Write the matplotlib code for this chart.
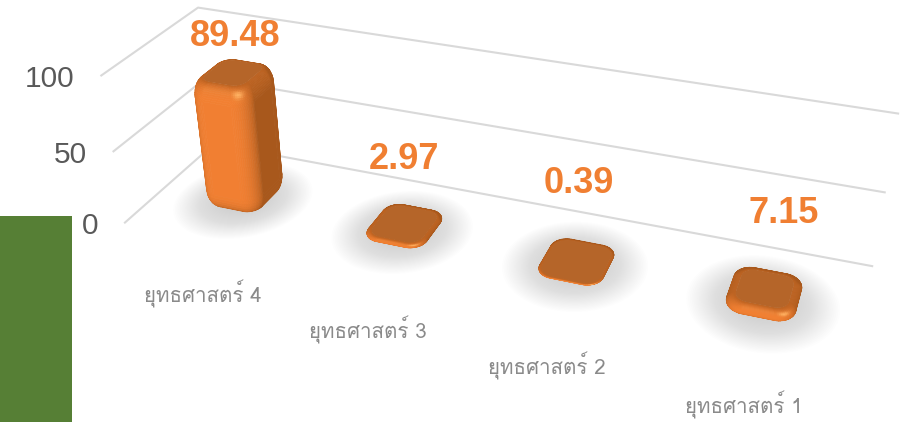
import numpy as np
import matplotlib
matplotlib.use('Agg')
import matplotlib.pyplot as plt
from matplotlib import font_manager
from matplotlib.collections import PolyCollection
from matplotlib.patches import Rectangle

# Step 1: values
categories = ['ยุทธศาสตร์ 4', 'ยุทธศาสตร์ 3', 'ยุทธศาสตร์ 2', 'ยุทธศาสตร์ 1']
values = [89.48, 2.97, 0.39, 7.15]
y_ticks = [0, 50, 100]

# Step 2: fit a camera so the chart box (x 0-4, depth 0-1, value 0-100) lands on the pixels
world_pts = [(0, 1, 0), (0, 0, 0), (4, 1, 0), (0, 1, 50), (0, 0, 50), (4, 1, 50),
             (0, 1, 100), (0, 0, 100), (4, 1, 100),
             (.5, .5, 0), (1.5, .5, 0), (2.5, .5, 0), (3.5, .5, 0)]
pixel_pts = [(215, 147), (124, 225), (873, 266), (207, 78), (113, 153), (886, 192),
             (197, 7), (101, 76), (899, 114),
             (244, 188), (405, 229), (578, 264), (763, 298)]


def fit_camera(world, pixel):
    rows, rhs = [], []
    for (x, y, z), (u, v) in zip(world, pixel):
        rows.append([x, y, z, 1, 0, 0, 0, 0, -u * x, -u * y, -u * z])
        rows.append([0, 0, 0, 0, x, y, z, 1, -v * x, -v * y, -v * z])
        rhs += [u, v]
    m = np.linalg.lstsq(np.array(rows, float), np.array(rhs, float), rcond=None)[0]
    return np.append(m, 1).reshape(3, 4)


cam = fit_camera(world_pts, pixel_pts)


def project(x, y, z):
    x, y, z = np.broadcast_arrays(np.asarray(x, float), np.asarray(y, float), np.asarray(z, float))
    pts = np.stack([x, y, z, np.ones_like(x)], axis=-1)
    h = pts @ cam.T
    return h[..., :2] / h[..., 2:]


def pick_thai_font():
    for f in font_manager.fontManager.ttflist:
        try:
            if 0x0E22 in font_manager.get_font(f.fname).get_charmap():
                return f.name
        except Exception:
            pass
    return 'Liberation Sans'


fig = plt.figure(figsize=(9.02, 4.22), dpi=100)
ax = fig.add_axes([0, 0, 1, 1])
ax.set_xlim(0, 902)
ax.set_ylim(422, 0)
ax.axis('off')

# green block bottom left
ax.add_patch(Rectangle((0, 216), 72, 206, color='#567F35', lw=0, zorder=1))

# Step 3: gridlines on the two walls, tick labels
for t in y_ticks:
    pts = np.array([project(0, 0, t), project(0, 1, t), project(4, 1, t)])
    ax.plot(pts[:, 0], pts[:, 1], color='#D9D9D9', lw=1.5, zorder=2, solid_capstyle='butt')
    ax.text(pts[0, 0] - 26, pts[0, 1] + 3, str(t), ha='right', va='center', color='#595959',
            fontsize=21.5, family='Liberation Sans', zorder=6)

# Step 4: rounded bars as shaded meshes
half_x, half_y = 0.175, 0.2
corner = 0.5
bar_scale = 0.97
base_col = np.array([0xF2, 0x80, 0x32]) / 255
dark_col = np.array([0xA8, 0x58, 0x1C]) / 255
spec_col = np.array([0xFF, 0xB0, 0x60]) / 255
light = np.array([0.0, -1.0, 0.2])
light = light / np.linalg.norm(light)
spec_dir = np.array([0.35, -0.65, 0.65])
spec_dir = spec_dir / np.linalg.norm(spec_dir)

# rounded square outline in -1..1 with its outward normals
out_x, out_y, out_nx, out_ny = [], [], [], []
for a0, (sx, sy) in zip([0, 90, 180, 270], [(1, 1), (-1, 1), (-1, -1), (1, -1)]):
    for a in np.radians(a0 + np.linspace(0, 90, 14)):
        out_x.append(sx * (1 - corner) + corner * np.cos(a))
        out_y.append(sy * (1 - corner) + corner * np.sin(a))
        out_nx.append(np.cos(a))
        out_ny.append(np.sin(a))
px, py, nx, ny = map(np.array, (out_x, out_y, out_nx, out_ny))


def shade(n):
    diff = np.clip(n @ light, 0, 1)
    spec = np.clip(n @ spec_dir, 0, 1) ** 30
    col = dark_col[None, :] + (base_col - dark_col)[None, :] * diff[:, None] ** 0.8
    col = col + (spec_col - col) * spec[:, None]
    return np.clip(col, 0, 1)


for i, (cat, val) in enumerate(zip(categories, values)):
    cx, cy = i + 0.5, 0.5
    h = val * bar_scale

    # soft shadow on the floor, rounder than the bar
    for s in np.linspace(2.2, 0.7, 30):
        sh = project(cx + half_x * s * nx, cy - 0.03 + half_y * s * ny, 0)
        ax.fill(sh[:, 0], sh[:, 1], color='#A0A0A0', alpha=0.014, lw=0, zorder=3)

    zb = min(11.0, max(h / 2, 0.4))
    bev = 0.26 * min(1, h / 10 + 0.2)
    theta = np.radians(np.concatenate([np.linspace(-90, 0, 9), np.linspace(0, 90, 13)]))
    scale = 1 - bev * (1 - np.cos(theta))
    zs = np.where(np.arange(len(theta)) < 9, zb * (1 + np.sin(theta)), h - zb * (1 - np.sin(theta)))

    polys, cols = [], []
    for k in range(len(theta) - 1):
        t_mid = (theta[k] + theta[k + 1]) / 2
        low = project(cx + half_x * scale[k] * px, cy + half_y * scale[k] * py, zs[k])
        up = project(cx + half_x * scale[k + 1] * px, cy + half_y * scale[k + 1] * py, zs[k + 1])
        for j in range(len(px)):
            j2 = (j + 1) % len(px)
            q = np.array([low[j], low[j2], up[j2], up[j]])
            area = 0.5 * np.sum(q[:, 0] * np.roll(q[:, 1], -1) - np.roll(q[:, 0], -1) * q[:, 1])
            if area >= 0:
                continue
            n = np.array([[np.cos(t_mid) * nx[j], np.cos(t_mid) * ny[j], np.sin(t_mid)]])
            polys.append(q)
            cols.append(shade(n)[0])
    ax.add_collection(PolyCollection(polys, facecolors=cols, edgecolors=cols, linewidths=0.5, zorder=4))
    cap = project(cx + half_x * scale[-1] * px, cy + half_y * scale[-1] * py, h)
    ax.fill(cap[:, 0], cap[:, 1], color=dark_col + 0.05, lw=0, zorder=5)

# Step 5: labels
label_off = [(-11, -160), (-1, -68), (2, -78), (20, -85)]
cat_off = [(-43, 98), (-37, 102), (-30, 104), (-20, 106)]
thai_font = pick_thai_font()
for i, (cat, val) in enumerate(zip(categories, values)):
    bx, by = project(i + 0.5, 0.5, 0)
    ax.text(bx + label_off[i][0], by + label_off[i][1], f'{val:.2f}', ha='center', va='center',
            color='#F07F32', fontsize=26, fontweight='bold', family='Liberation Sans', zorder=7)
    ax.text(bx + cat_off[i][0], by + cat_off[i][1], cat, ha='center', va='center',
            color='#8A8A8A', fontsize=14.8, family=[thai_font, 'DejaVu Sans'], zorder=6)

fig.savefig('out.png', dpi=100)
